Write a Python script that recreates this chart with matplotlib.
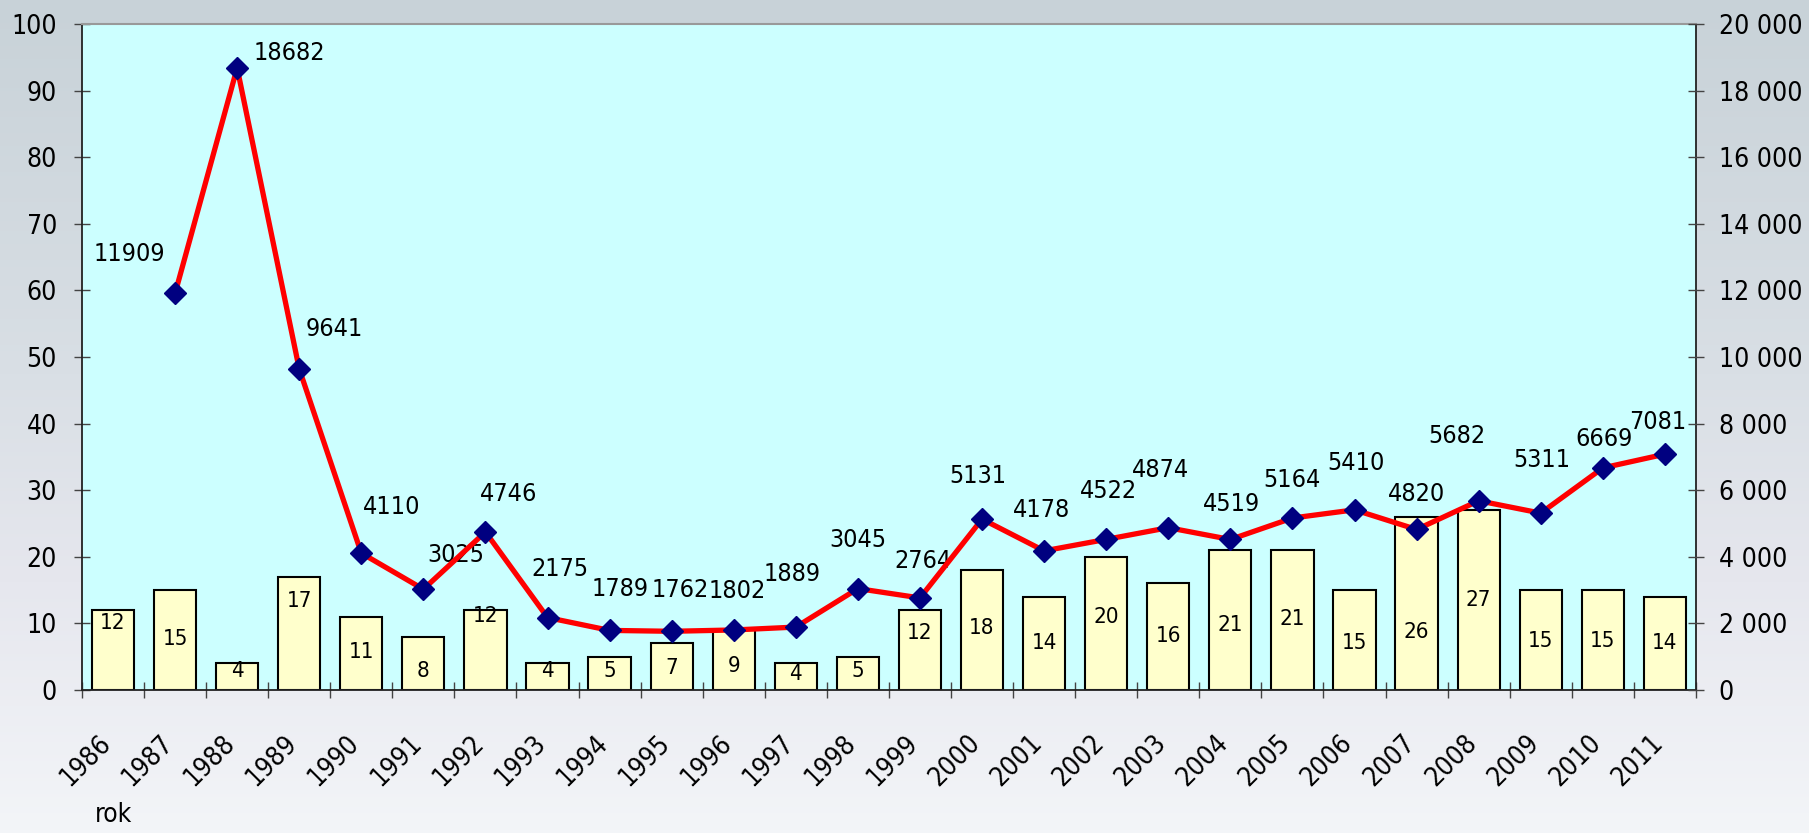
import numpy as np
import matplotlib.pyplot as plt
from matplotlib.colors import LinearSegmentedColormap
from matplotlib.ticker import FuncFormatter, FixedLocator
from matplotlib.transforms import ScaledTranslation

plt.rcParams['font.family'] = 'DejaVu Sans'
plt.rcParams['font.stretch'] = 'condensed'

# data
years = [str(y) for y in range(1986, 2012)]
counts = [12, 15, 4, 17, 11, 8, 12, 4, 5, 7, 9, 4, 5, 12, 18, 14, 20, 16, 21, 21, 15, 26, 27, 15, 15, 14]
line_years = years[1:]
line_vals = [11909, 18682, 9641, 4110, 3025, 4746, 2175, 1789, 1762, 1802, 1889, 3045, 2764,
             5131, 4178, 4522, 4874, 4519, 5164, 5410, 4820, 5682, 5311, 6669, 7081]

# label placement (layout only)
bar_label_y = [10.0, 7.6, 2.8, 13.3, 5.7, 2.8, 11.1, 2.8, 2.9, 3.3, 3.6, 2.4, 2.8, 8.5, 9.3, 7.1,
               10.9, 8.1, 9.7, 10.6, 7.1, 8.7, 13.5, 7.4, 7.4, 7.1]
line_label_off = [(-40, 34), (45, 13), (30, 35), (26, 40), (28, 30), (20, 33), (11, 42), (9, 36),
                  (7, 36), (3, 34), (-3, 46), (0, 42), (3, 32), (-4, 37), (-2, 35), (2, 42),
                  (-7, 50), (1, 31), (0, 33), (1, 41), (0, 31), (-19, 56), (1, 46), (1, 25), (-6, 28)]
PX = 1809 / 1568 * 0.72  # shrunk px -> points

fig = plt.figure(figsize=(18.09, 8.33), dpi=100)

# gradient background
bg = fig.add_axes([0, 0, 1, 1], zorder=-10)
cmap = LinearSegmentedColormap.from_list('bg', [(0, '#c8d2d8'), (0.45, '#d9dfe5'),
                                                (0.7, '#e6e7ee'), (1, '#f3f5f8')])
bg.imshow(np.linspace(0, 1, 256).reshape(-1, 1), aspect='auto', cmap=cmap,
          extent=[0, 1, 1, 0])
bg.axis('off')

ax = fig.add_axes([0.0453, 0.1717, 0.8922, 0.7995])
ax.set_facecolor('#ccffff')
x = np.arange(len(years))
ax.bar(x, counts, width=0.68, color='#ffffcc', edgecolor='black', linewidth=1.5, zorder=2)
for xi, c, ly in zip(x, counts, bar_label_y):
    ax.text(xi, ly, str(c), ha='center', va='center', fontsize=16, zorder=3)

ax.set_xlim(-0.5, len(years) - 0.5)
ax.set_ylim(0, 100)
ax.set_yticks(range(0, 101, 10))
ax.set_xticks(x)
ax.set_xticklabels(years)
ax.xaxis.set_minor_locator(FixedLocator(np.arange(len(years) + 1) - 0.5))
ax.tick_params(axis='x', which='major', length=0, pad=29, labelsize=19)
ax.tick_params(axis='x', which='minor', direction='inout', length=12, width=1, color='#444444')
ax.tick_params(axis='y', direction='inout', length=12, width=1, pad=12, labelsize=19,
               color='#444444')
plt.setp(ax.get_xticklabels(), rotation=45, ha='right', rotation_mode='anchor')
shift = ScaledTranslation(-0.15, 0, fig.dpi_scale_trans)
for lab in ax.get_xticklabels():
    lab.set_transform(lab.get_transform() + shift)
for s in ['left', 'bottom', 'right']:
    ax.spines[s].set_color('#222222')
    ax.spines[s].set_linewidth(1.3)
ax.spines['top'].set_color('#999999')
ax.spines['top'].set_linewidth(1.5)

ax2 = ax.twinx()
ax2.set_ylim(0, 20000)
ax2.set_yticks(range(0, 20001, 2000))
ax2.yaxis.set_major_formatter(FuncFormatter(lambda v, p: f"{int(v):,}".replace(",", " ")))
ax2.tick_params(axis='y', direction='inout', length=12, width=1, pad=10.5, labelsize=19,
                color='#444444')
for s in ax2.spines.values():
    s.set_visible(False)
lx = np.arange(1, len(years))
ax2.plot(lx, line_vals, color='red', linewidth=3.8, marker='D', markersize=11,
         markerfacecolor='#000080', markeredgecolor='#000080', zorder=5)
for xi, v, (dx, dy) in zip(lx, line_vals, line_label_off):
    ax2.annotate(str(v), (xi, v), xytext=(dx * PX, dy * PX), textcoords='offset points',
                 ha='center', va='center', fontsize=18)

fig.text(95 / 1809, 1 - 822 / 833, 'rok', fontsize=19, ha='left', va='baseline')

fig.savefig('out.png', dpi=100)
